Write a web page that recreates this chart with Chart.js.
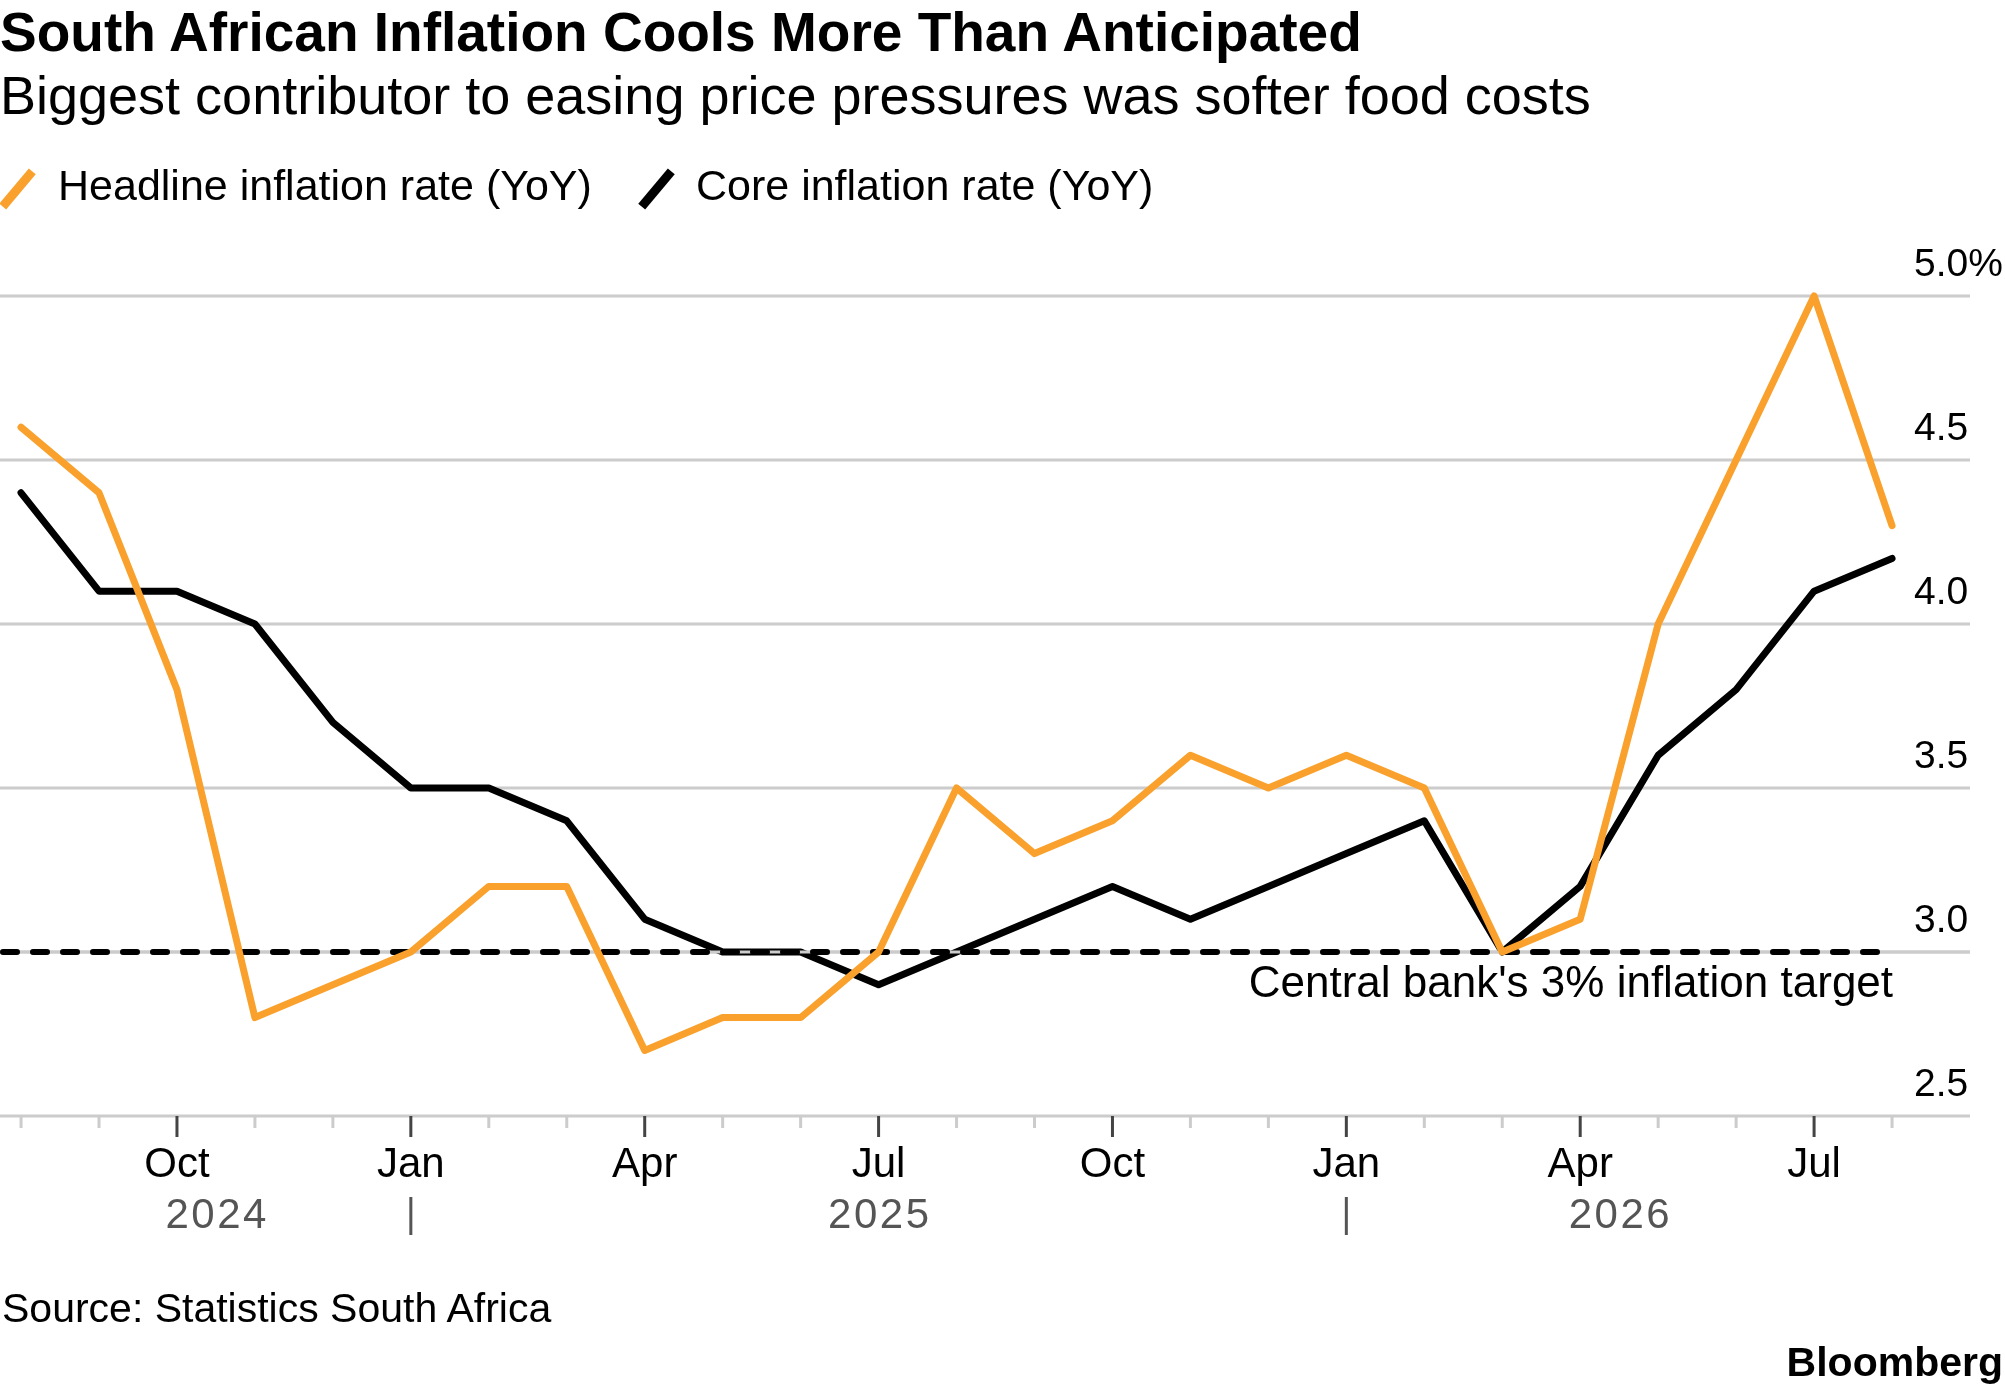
<!DOCTYPE html>
<html>
<head>
<meta charset="utf-8">
<script src="https://cdn.jsdelivr.net/npm/chart.js@4.4.1/dist/chart.umd.min.js"></script>
<style>
html,body{margin:0;padding:0;background:#fff;overflow:hidden;}
#wrap{position:relative;width:2005px;height:1392px;background:#fff;}
canvas{position:absolute;left:0;top:0;}
.t{position:absolute;white-space:nowrap;font-family:"Liberation Sans",Arial,sans-serif;color:#000;line-height:1;}
.sw{position:absolute;width:9px;height:46px;transform:rotate(40deg);}
</style>
</head>
<body>
<div id="wrap">
<canvas id="c" width="2005" height="1392" style="width:2005px;height:1392px;"></canvas>
<div class="t" style="left:0;top:5px;font-size:55px;font-weight:bold;">South African Inflation Cools More Than Anticipated</div>
<div class="t" style="left:0;top:68px;font-size:54px;">Biggest contributor to easing price pressures was softer food costs</div>
<div class="sw" style="left:13px;top:166px;background:#F9A12C;"></div>
<div class="t" style="left:58px;top:164px;font-size:43px;">Headline inflation rate (YoY)</div>
<div class="sw" style="left:652px;top:166px;background:#000;"></div>
<div class="t" style="left:696px;top:164px;font-size:43px;">Core inflation rate (YoY)</div>
<div class="t" style="left:2px;top:1288px;font-size:41px;">Source: Statistics South Africa</div>
<div class="t" style="right:2px;top:1342px;font-size:41px;font-weight:bold;">Bloomberg</div>
</div>
<script>
// ---- data ----
const monthAbbr = ['Aug','Sep','Oct','Nov','Dec','Jan','Feb','Mar','Apr','May','Jun','Jul','Aug','Sep','Oct','Nov','Dec','Jan','Feb','Mar','Apr','May','Jun','Jul','Aug'];
const monthYear = [2024,2024,2024,2024,2024,2025,2025,2025,2025,2025,2025,2025,2025,2025,2025,2025,2025,2026,2026,2026,2026,2026,2026,2026,2026];
const headline = [4.6,4.4,3.8,2.8,2.9,3.0,3.2,3.2,2.7,2.8,2.8,3.0,3.5,3.3,3.4,3.6,3.5,3.6,3.5,3.0,3.1,4.0,4.5,5.0,4.3];
const core     = [4.4,4.1,4.1,4.0,3.7,3.5,3.5,3.4,3.1,3.0,3.0,2.9,3.0,3.1,3.2,3.1,3.2,3.3,3.4,3.0,3.2,3.6,3.8,4.1,4.2];
const yTicks = [2.5,3.0,3.5,4.0,4.5,5.0];
const quarterLabels = ['Jan','Apr','Jul','Oct'];
const targetRate = 3.0;
const targetLabel = "Central bank's 3% inflation target";
const seriesNames = ['Headline inflation rate (YoY)','Core inflation rate (YoY)'];

const FONT = '"Liberation Sans", Arial, sans-serif';

const deco = {
  id: 'deco',
  beforeDatasetsDraw(chart) {
    const {ctx, chartArea: a, scales: {y}} = chart;
    ctx.save();
    ctx.strokeStyle = '#cccccc';
    ctx.lineWidth = 3;
    yTicks.forEach(t => {
      const py = y.getPixelForValue(t);
      ctx.beginPath();
      ctx.moveTo(a.left, py);
      ctx.lineTo(a.right, py);
      ctx.stroke();
    });
    ctx.restore();
  },
  afterDatasetDraw(chart, args) {
    if (args.index !== 1) return;
    const {ctx, chartArea: a, scales: {x, y}} = chart;
    const py = y.getPixelForValue(targetRate);
    ctx.save();
    ctx.strokeStyle = '#cccccc';
    ctx.lineWidth = 3;
    ctx.beginPath(); ctx.moveTo(a.left, py); ctx.lineTo(a.right, py); ctx.stroke();
    ctx.strokeStyle = '#000';
    ctx.lineWidth = 6;
    ctx.lineCap = 'round';
    ctx.setLineDash([14, 16]);
    ctx.lineDashOffset = -3;
    ctx.beginPath();
    ctx.moveTo(a.left, py);
    ctx.lineTo(x.getPixelForValue(monthAbbr.length - 1), py);
    ctx.stroke();
    ctx.restore();
  },
  afterDraw(chart) {
    const {ctx, scales: {x, y}} = chart;
    ctx.save();
    ctx.fillStyle = '#000';
    ctx.font = '39px ' + FONT;
    ctx.textAlign = 'left';
    ctx.textBaseline = 'alphabetic';
    yTicks.forEach((t, k) => {
      const py = y.getPixelForValue(t);
      const lab = t.toFixed(1) + (k === yTicks.length - 1 ? '%' : '');
      ctx.fillText(lab, 1914, py - 20);
    });
    const base = y.getPixelForValue(yTicks[0]);
    monthAbbr.forEach((m, i) => {
      const px = x.getPixelForValue(i);
      const major = quarterLabels.includes(m);
      ctx.strokeStyle = major ? '#444444' : '#cccccc';
      ctx.lineWidth = 3;
      ctx.beginPath();
      ctx.moveTo(px, base);
      ctx.lineTo(px, base + (major ? 21 : 12));
      ctx.stroke();
      if (major) {
        ctx.fillStyle = '#000';
        ctx.font = '42px ' + FONT;
        ctx.textAlign = 'center';
        ctx.fillText(m, px, base + 61);
      }
      if (m === 'Jan' && i > 0) {
        ctx.strokeStyle = '#555555';
        ctx.lineWidth = 3;
        ctx.beginPath();
        ctx.moveTo(px, base + 81);
        ctx.lineTo(px, base + 119);
        ctx.stroke();
      }
    });
    const years = [...new Set(monthYear)];
    ctx.fillStyle = '#555555';
    ctx.font = '42px ' + FONT;
    ctx.textAlign = 'center';
    try { ctx.letterSpacing = '2.5px'; } catch (e) {}
    years.forEach((yr, k) => {
      const first = monthYear.indexOf(yr);
      const last = monthYear.lastIndexOf(yr);
      const end = (k < years.length - 1) ? last + 1 : last;
      const cx = (x.getPixelForValue(first) + x.getPixelForValue(end)) / 2;
      ctx.fillText(String(yr), cx + 1.25, base + 112);
    });
    try { ctx.letterSpacing = '0px'; } catch (e) {}
    ctx.fillStyle = '#000';
    ctx.font = '44px ' + FONT;
    ctx.textAlign = 'right';
    ctx.fillText(targetLabel, x.getPixelForValue(monthAbbr.length - 1) + 1, y.getPixelForValue(targetRate) + 45);
    ctx.restore();
  }
};

new Chart(document.getElementById('c'), {
  type: 'line',
  data: {
    datasets: [
      {
        label: seriesNames[0],
        data: headline.map((v, i) => ({x: i, y: v})),
        borderColor: '#F9A12C',
        borderWidth: 7,
        pointRadius: 0,
        borderCapStyle: 'round',
        borderJoinStyle: 'round',
        clip: false,
        tension: 0
      },
      {
        label: seriesNames[1],
        data: core.map((v, i) => ({x: i, y: v})),
        borderColor: '#000000',
        borderWidth: 7,
        pointRadius: 0,
        borderCapStyle: 'round',
        borderJoinStyle: 'round',
        clip: false,
        tension: 0
      }
    ]
  },
  options: {
    responsive: false,
    devicePixelRatio: 1,
    animation: false,
    layout: {padding: {left: 0, right: 35, top: 296, bottom: 276}},
    scales: {
      x: {type: 'linear', min: -0.27, max: 25.0, display: false},
      y: {type: 'linear', min: yTicks[0], max: yTicks[yTicks.length - 1], display: false}
    },
    plugins: {legend: {display: false}, tooltip: {enabled: false}, title: {display: false}}
  },
  plugins: [deco]
});
</script>
</body>
</html>
